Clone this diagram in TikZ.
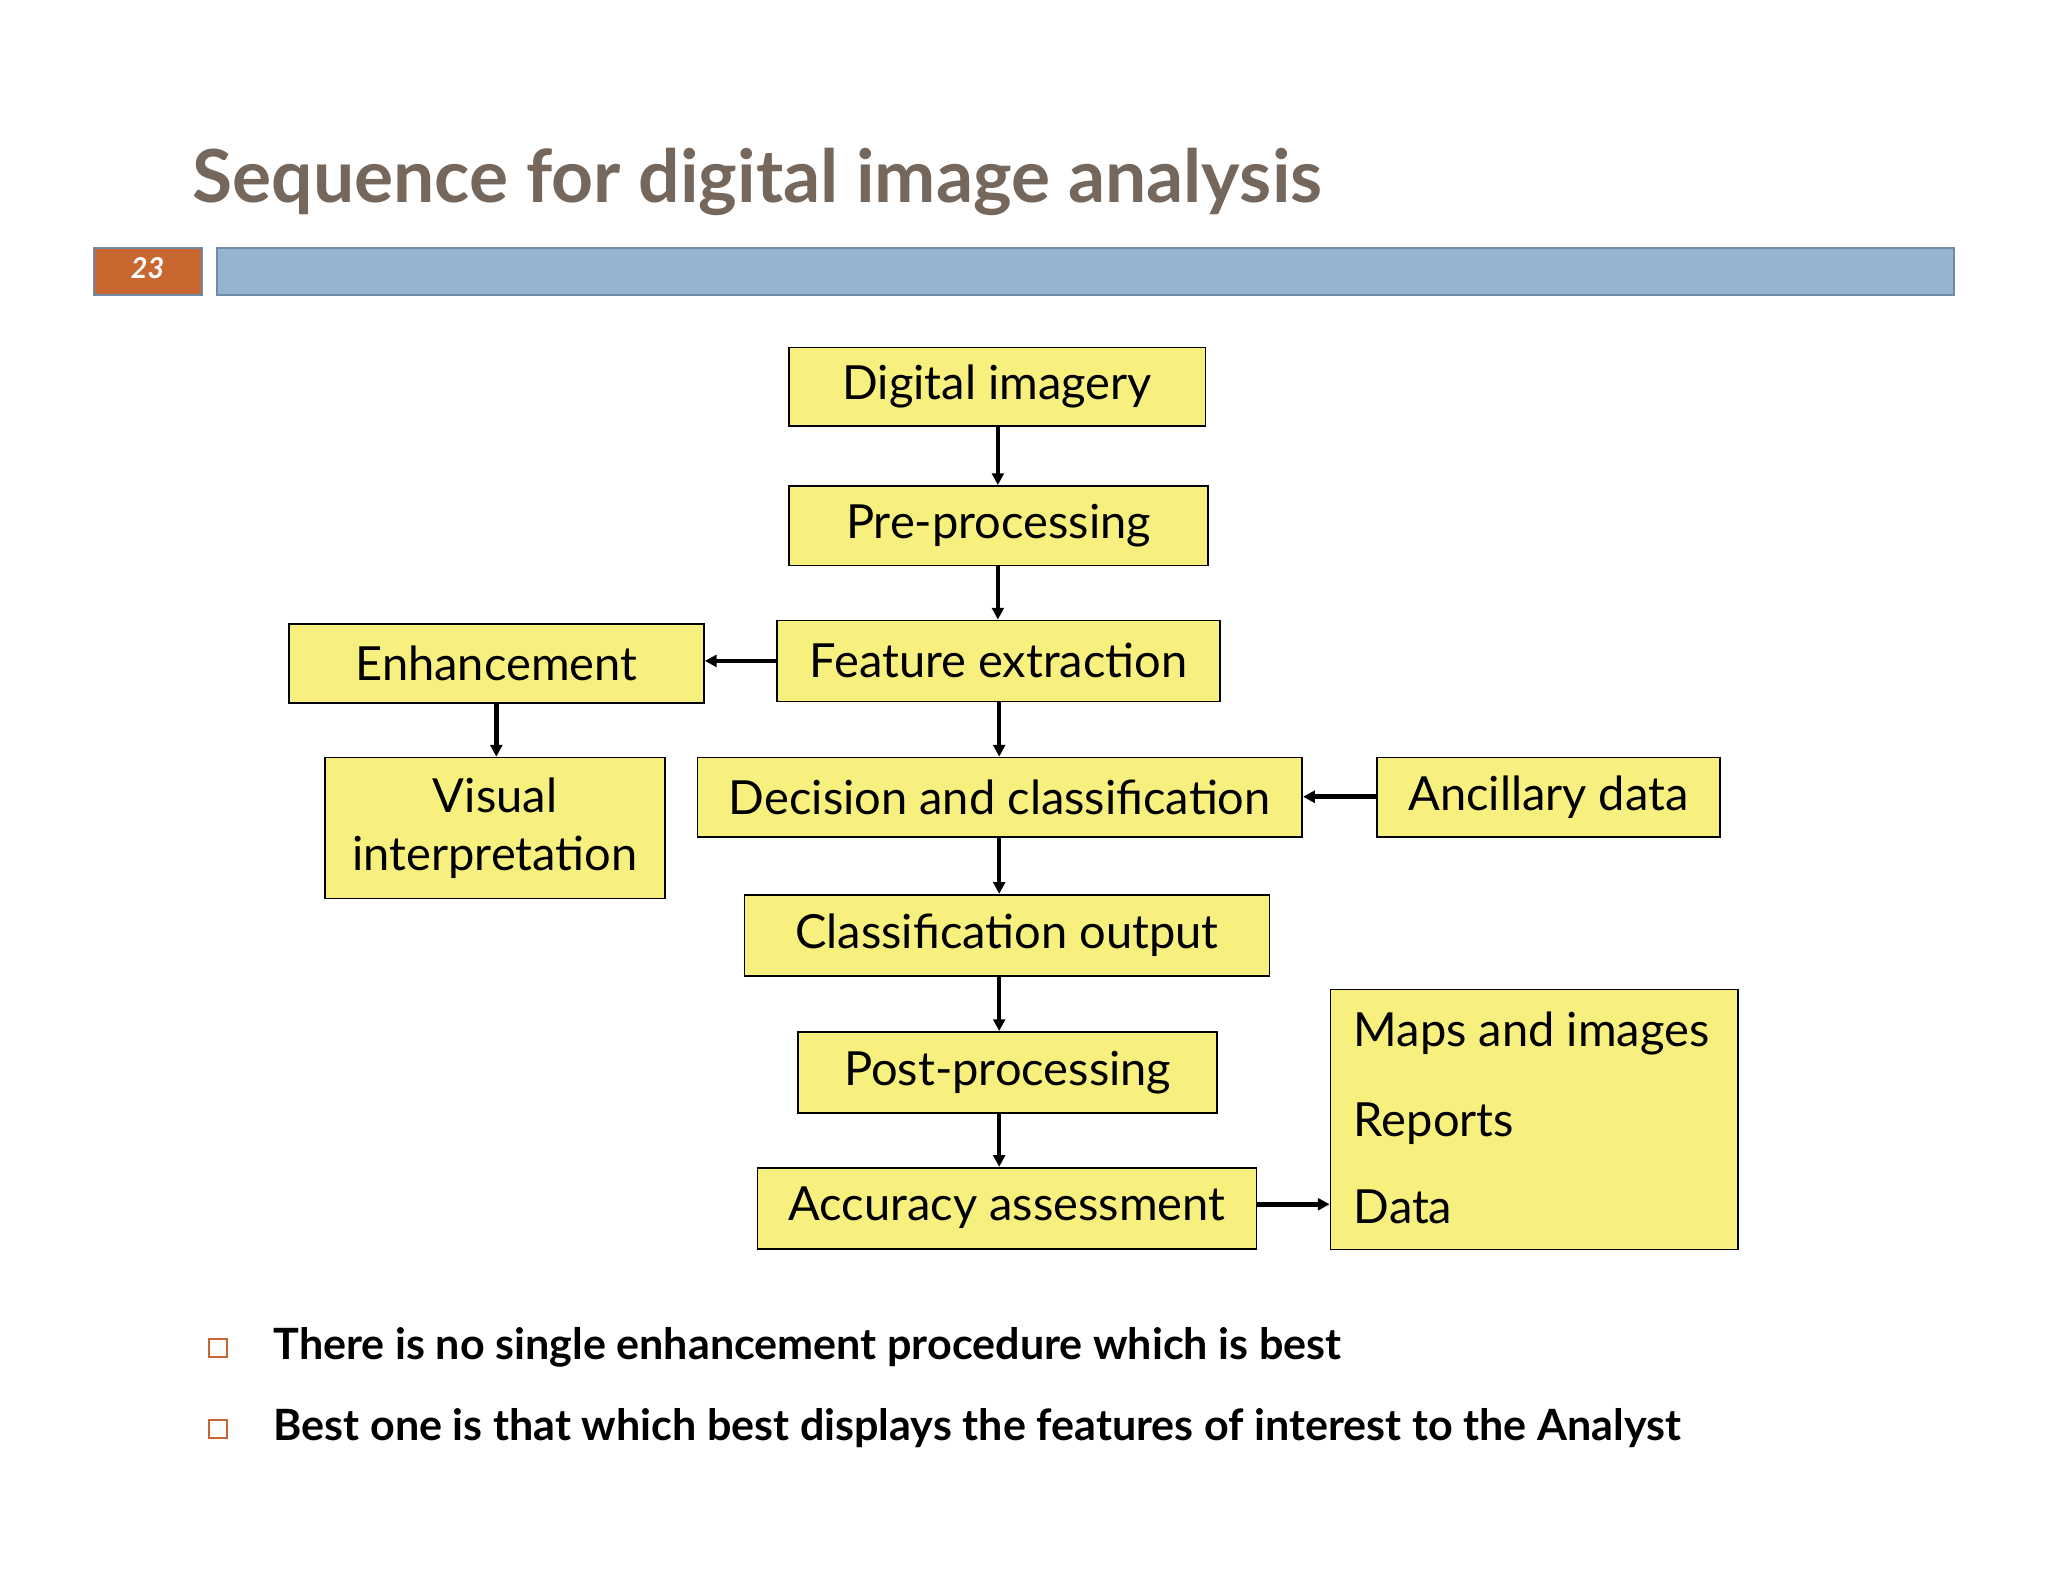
\documentclass[tikz,border=0pt]{standalone}
\usepackage{fontspec}
\setmainfont{Lato}
\usetikzlibrary{arrows.meta}
\definecolor{boxy}{HTML}{F7F07E}
\definecolor{titlec}{HTML}{75675C}
\definecolor{barc}{HTML}{94B4D0}
\definecolor{barb}{HTML}{6F8BA8}
\definecolor{numc}{HTML}{C8672F}
\begin{document}
\begin{tikzpicture}[x=1pt,y=-1pt,
  bx/.style={draw=black,line width=1.3pt,fill=boxy,font=\fontsize{36}{44}\selectfont,inner sep=0pt,align=center},
  arr/.style={-{Triangle[length=9pt,width=9pt]},line width=3.5pt}]
\useasboundingbox (0,0) rectangle (1568,1211);
\fill[white] (0,0) rectangle (1568,1211);
\node[anchor=base west,text=titlec,font=\fontsize{56}{60}\selectfont\bfseries] (title) at (144,155) {Sequence for digital image analysis};
\draw[barb,fill=numc,line width=1.5pt] (72,190) rectangle (155,226);
\node[text=white,font=\fontsize{22}{24}\selectfont\itshape\bfseries] (num) at (113,205) {23};
\draw[barb,fill=barc,line width=1.5pt] (166,190) rectangle (1496,226);

\node[bx,minimum width=319pt,minimum height=60pt] (di) at (763.5,296) {Digital imagery};
\node[bx,minimum width=321pt,minimum height=61pt] (pp) at (764.5,402.5) {Pre-processing};
\node[bx,minimum width=339pt,minimum height=62pt] (fe) at (764.5,506) {Feature extraction};
\node[bx,minimum width=318pt,minimum height=60pt] (en) at (380,508) {Enhancement};
\node[bx,minimum width=260pt,minimum height=108pt] (vi) at (379,634) {Visual\\interpretation};
\node[bx,minimum width=463pt,minimum height=61pt] (dc) at (765.5,610.5) {Decision and classification};
\node[bx,minimum width=263pt,minimum height=61pt] (ad) at (1185.5,610.5) {Ancillary data};
\node[bx,minimum width=402pt,minimum height=62pt] (co) at (771,716) {Classification output};
\node[bx,minimum width=321pt,minimum height=62pt] (po) at (771.5,821) {Post-processing};
\node[bx,minimum width=382pt,minimum height=62pt] (aa) at (771,925) {Accuracy assessment};
\node[bx,minimum width=312pt,minimum height=199pt,align=left,anchor=north west,text width=297pt,inner xsep=0pt] (mp) at (1018,757) {};
\node[anchor=base west,font=\fontsize{36}{44}\selectfont] (m1) at (1033,801) {Maps and images};
\node[anchor=base west,font=\fontsize{36}{44}\selectfont] (m2) at (1033,870) {Reports};
\node[anchor=base west,font=\fontsize{36}{44}\selectfont] (m3) at (1033,937) {Data};

\draw[arr] (di.south -| 764,0) -- (pp.north -| 764,0);
\draw[arr] (pp.south -| 764,0) -- (fe.north -| 764,0);
\draw[arr] (fe.south -| 765,0) -- (dc.north -| 765,0);
\draw[arr] (dc.south -| 765,0) -- (co.north -| 765,0);
\draw[arr] (co.south -| 765,0) -- (po.north -| 765,0);
\draw[arr] (po.south -| 765,0) -- (aa.north -| 765,0);
\draw[arr] (fe.west |- 0,506) -- (en.east |- 0,506);
\draw[arr] (en.south -| 380,0) -- (vi.north -| 380,0);
\draw[arr] (ad.west |- 0,610) -- (dc.east |- 0,610);
\draw[arr] (aa.east |- 0,922) -- (mp.west |- 0,922);

\node[draw=numc,line width=1.3pt,minimum size=14pt,inner sep=0pt] (b1) at (167,1032) {};
\node[draw=numc,line width=1.3pt,minimum size=14pt,inner sep=0pt] (b2) at (167,1094) {};
\node[anchor=base west,font=\fontsize{33}{38}\selectfont\bfseries] (t1) at (206,1041) {There is no single enhancement procedure which is best};
\node[anchor=base west,font=\fontsize{33}{38}\selectfont\bfseries] (t2) at (206,1103) {Best one is that which best displays the features of interest to the Analyst};
\end{tikzpicture}
\end{document}
